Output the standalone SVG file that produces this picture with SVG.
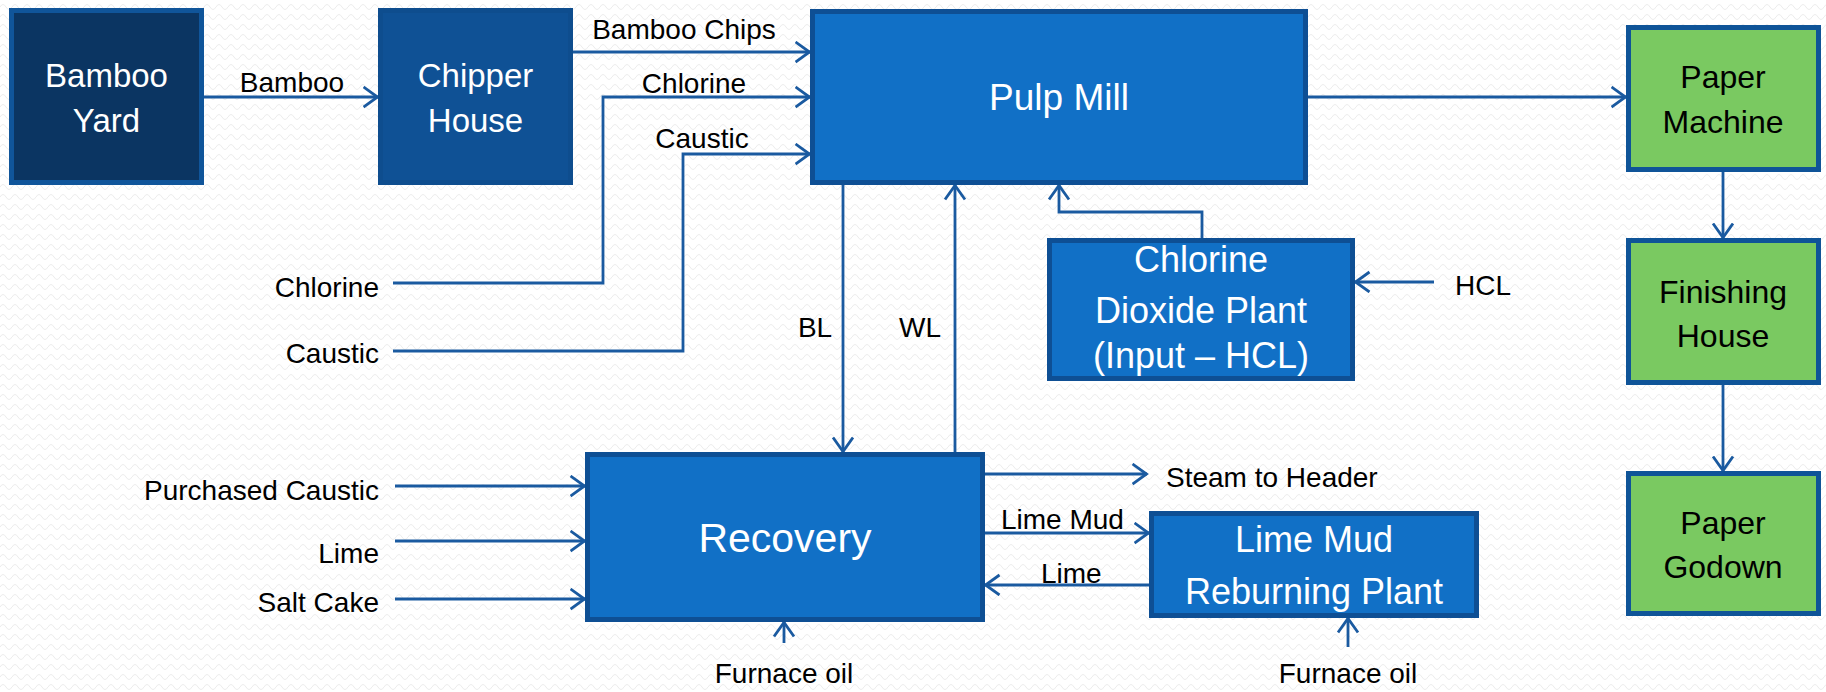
<svg xmlns="http://www.w3.org/2000/svg" width="1826" height="692" viewBox="0 0 1826 692">
<defs>
<pattern id="bg" width="12" height="10" patternUnits="userSpaceOnUse">
<rect width="12" height="10" fill="#ffffff"/>
<path d="M0,7 Q3,2 6,7 T12,7" fill="none" stroke="#ececec" stroke-width="1"/>
</pattern>
<marker id="ah" markerWidth="18" markerHeight="24" refX="15.5" refY="11" orient="auto" markerUnits="userSpaceOnUse">
<path d="M1,1 L15,11 L1,21" fill="none" stroke="#1a5aa0" stroke-width="2.8"/>
</marker>
<style>
.lbl{font-family:"Liberation Sans",Arial,sans-serif;font-size:28px;fill:#000}
.nt{font-family:"Liberation Sans",Arial,sans-serif;fill:#fff;text-anchor:middle}
.gt{font-family:"Liberation Sans",Arial,sans-serif;fill:#000;text-anchor:middle;font-size:32px}
.c{fill:none;stroke:#1a5aa0;stroke-width:2.8}
.a{marker-end:url(#ah)}
.box{stroke-width:5}
.mid{fill:#1170c6;stroke:#0e4f94}
.grn{fill:#7ac961;stroke:#0f5498}
</style>
</defs>
<rect width="1826" height="692" fill="url(#bg)"/>

<g id="connectors">
<path class="c a" d="M204,97 H378"/>
<path class="c a" d="M573,52 H810"/>
<path class="c a" d="M393,283 H603 V97 H810"/>
<path class="c a" d="M393,351 H683 V154 H810"/>
<path class="c a" d="M1308,97 H1626"/>
<path class="c a" d="M1723,172 V238"/>
<path class="c a" d="M1723,385 V471"/>
<path class="c a" d="M843,185 V452"/>
<path class="c a" d="M955,452 V185"/>
<path class="c a" d="M1202,238 V212 H1059 V185"/>
<path class="c a" d="M1434,282 H1355"/>
<path class="c a" d="M395,486 H585"/>
<path class="c a" d="M395,541 H585"/>
<path class="c a" d="M395,599 H585"/>
<path class="c a" d="M784,643 V622"/>
<path class="c a" d="M985,474 H1147"/>
<path class="c a" d="M985,533 H1149"/>
<path class="c a" d="M1149,585 H985"/>
<path class="c a" d="M1348,647 V618"/>
<text class="lbl" x="292" y="92" text-anchor="middle">Bamboo</text>
<text class="lbl" x="684" y="39" text-anchor="middle">Bamboo Chips</text>
<text class="lbl" x="694" y="93" text-anchor="middle">Chlorine</text>
<text class="lbl" x="702" y="148" text-anchor="middle">Caustic</text>
<text class="lbl" x="379" y="297" text-anchor="end">Chlorine</text>
<text class="lbl" x="379" y="363" text-anchor="end">Caustic</text>
<text class="lbl" x="815" y="337" text-anchor="middle">BL</text>
<text class="lbl" x="920" y="337" text-anchor="middle">WL</text>
<text class="lbl" x="1455" y="295">HCL</text>
<text class="lbl" x="379" y="500" text-anchor="end">Purchased Caustic</text>
<text class="lbl" x="379" y="563" text-anchor="end">Lime</text>
<text class="lbl" x="379" y="612" text-anchor="end">Salt Cake</text>
<text class="lbl" x="784" y="683" text-anchor="middle">Furnace oil</text>
<text class="lbl" x="1166" y="487">Steam to Header</text>
<text class="lbl" x="1001" y="529">Lime Mud</text>
<text class="lbl" x="1041" y="583">Lime</text>
<text class="lbl" x="1348" y="683" text-anchor="middle">Furnace oil</text>
</g>

<g id="bamboo-yard">
<rect class="box" x="11.5" y="10.5" width="190" height="172" fill="#0b3562" stroke="#10559a"/>
<text class="nt" font-size="33" x="106.5" y="87">Bamboo</text>
<text class="nt" font-size="33" x="106.5" y="132">Yard</text>
</g>
<g id="chipper-house">
<rect class="box" x="380.5" y="10.5" width="190" height="172" fill="#0f5195" stroke="#0e4d8e"/>
<text class="nt" font-size="33" x="475.5" y="87">Chipper</text>
<text class="nt" font-size="33" x="475.5" y="132">House</text>
</g>
<g id="pulp-mill">
<rect class="box mid" x="812.5" y="11.5" width="493" height="171"/>
<text class="nt" font-size="37" x="1059" y="110">Pulp Mill</text>
</g>
<g id="paper-machine">
<rect class="box grn" x="1628.5" y="27.5" width="190" height="142"/>
<text class="gt" x="1723" y="88">Paper</text>
<text class="gt" x="1723" y="133">Machine</text>
</g>
<g id="finishing-house">
<rect class="box grn" x="1628.5" y="240.5" width="190" height="142"/>
<text class="gt" x="1723" y="303">Finishing</text>
<text class="gt" x="1723" y="347">House</text>
</g>
<g id="paper-godown">
<rect class="box grn" x="1628.5" y="473.5" width="190" height="140"/>
<text class="gt" x="1723" y="534">Paper</text>
<text class="gt" x="1723" y="578">Godown</text>
</g>
<g id="chlorine-dioxide-plant">
<rect class="box mid" x="1049.5" y="240.5" width="303" height="138"/>
<text class="nt" font-size="36" x="1201" y="272">Chlorine</text>
<text class="nt" font-size="36" x="1201" y="323">Dioxide Plant</text>
<text class="nt" font-size="36" x="1201" y="368">(Input – HCL)</text>
</g>
<g id="recovery">
<rect class="box mid" x="587.5" y="454.5" width="395" height="165"/>
<text class="nt" font-size="41" x="785" y="552">Recovery</text>
</g>
<g id="lime-mud-reburning-plant">
<rect class="box mid" x="1151.5" y="513.5" width="325" height="102"/>
<text class="nt" font-size="36" x="1314" y="552">Lime Mud</text>
<text class="nt" font-size="36" x="1314" y="604">Reburning Plant</text>
</g>
</svg>
